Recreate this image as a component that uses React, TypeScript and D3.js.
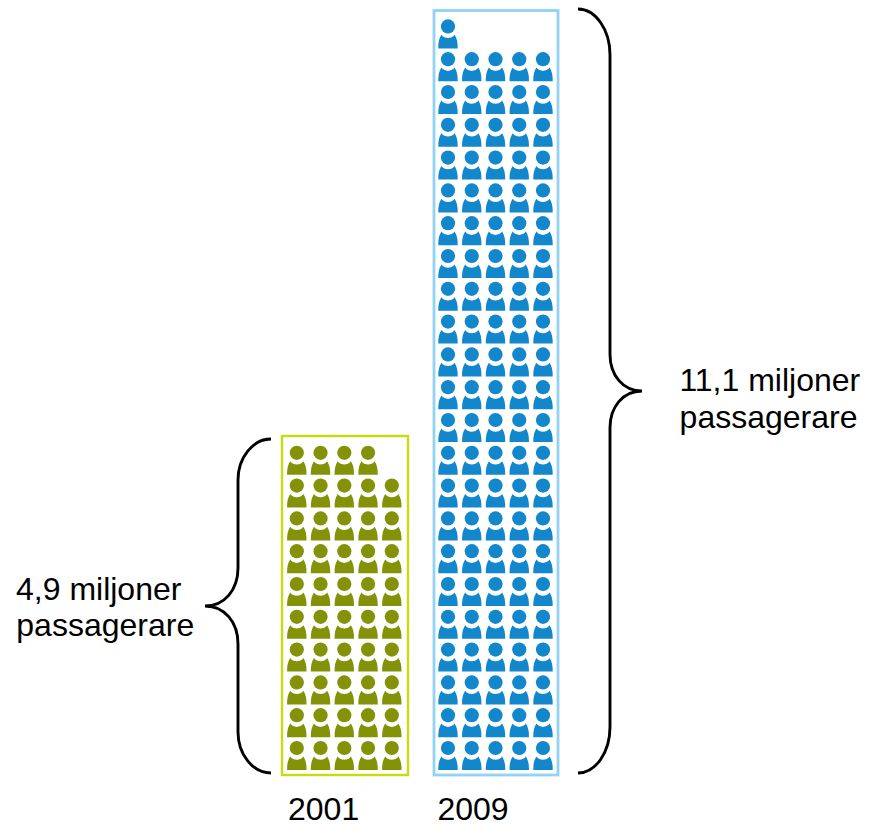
import React from "react";
import * as d3 from "d3";

// Passenger totals in millions; each figure stands for 100 000 passengers.
const years = ["2001", "2009"];
const passengers = [4.9, 11.1];
const figureColors = ["#849208", "#1287cc"];
const frameColors = ["#c6dc10", "#92d2f6"];
const totalLabels = [
  ["4,9 miljoner", "passagerare"],
  ["11,1 miljoner", "passagerare"],
];
const millionsPerFigure = 0.1;
const figuresPerRow = 5;
const maxRows = 23;

const bottomRowHeadY = 748;
const rowStep = 32.8;
const colStep = 23.75;
const firstColX = [296.8, 448];

const rowY = d3
  .scaleLinear()
  .domain([0, maxRows - 1])
  .range([bottomRowHeadY, bottomRowHeadY - rowStep * (maxRows - 1)]);

const personBody =
  "M-9.7 22 L9.7 22 C9.9 16 8.8 11.8 6.6 8.4 C3.5 12.8 -3.5 12.8 -6.6 8.4 C-8.8 11.8 -9.9 16 -9.7 22 Z";

function Person({ x, y, color }: { x: number; y: number; color: string }) {
  return (
    <g transform={`translate(${x},${y})`} fill={color}>
      <circle r={7.1} />
      <path d={personBody} />
    </g>
  );
}

function Pictogram({ index }: { index: number }) {
  const count = Math.round(passengers[index] / millionsPerFigure);
  const colX = d3
    .scaleLinear()
    .domain([0, figuresPerRow - 1])
    .range([firstColX[index], firstColX[index] + colStep * (figuresPerRow - 1)]);
  return (
    <g>
      {d3.range(count).map((i) => (
        <Person
          key={i}
          x={colX(i % figuresPerRow)}
          y={rowY(Math.floor(i / figuresPerRow))}
          color={figureColors[index]}
        />
      ))}
    </g>
  );
}

// Curly brace with its point at (tipX, tipY); armRise is the height of the curve at each arm end.
function bracePath(
  endX: number,
  spineX: number,
  tipX: number,
  top: number,
  tipY: number,
  bottom: number,
  armRise: number,
) {
  const p = d3.path();
  const r = Math.abs(endX - spineX);
  const t = Math.abs(tipX - spineX);
  const dirEnd = Math.sign(endX - spineX);
  const dirTip = Math.sign(tipX - spineX);
  p.moveTo(endX, top);
  p.bezierCurveTo(spineX + dirEnd * r * 0.45, top, spineX, top + armRise * 0.45, spineX, top + armRise);
  p.lineTo(spineX, tipY - t * 1.15);
  p.bezierCurveTo(spineX, tipY - t * 0.5, spineX + dirTip * t * 0.4, tipY, tipX, tipY);
  p.bezierCurveTo(spineX + dirTip * t * 0.4, tipY, spineX, tipY + t * 0.5, spineX, tipY + t * 1.15);
  p.lineTo(spineX, bottom - armRise);
  p.bezierCurveTo(spineX, bottom - armRise * 0.45, spineX + dirEnd * r * 0.45, bottom, endX, bottom);
  return p.toString();
}

const font = "'Liberation Sans', Arial, sans-serif";

export default function App() {
  return (
    <svg
      width={869}
      height={827}
      viewBox="0 0 869 827"
      style={{ position: "absolute", left: 0, top: 0, display: "block" }}
      fontFamily={font}
      fontSize={32}
      fill="#000"
    >
      <rect x={282} y={436} width={126} height={339} fill="none" stroke={frameColors[0]} strokeWidth={2.4} />
      <rect x={434} y={10.5} width={124} height={764.5} fill="none" stroke={frameColors[1]} strokeWidth={2.8} />

      <Pictogram index={0} />
      <Pictogram index={1} />

      <path d={bracePath(271, 238, 205, 439, 606, 773, 41)} fill="none" stroke="#000" strokeWidth={2.9} />
      <path d={bracePath(578, 610, 642, 9, 391, 773, 46)} fill="none" stroke="#000" strokeWidth={2.9} />

      <text x={288} y={820}>{years[0]}</text>
      <text x={437.4} y={820}>{years[1]}</text>

      <text x={16} y={600}>{totalLabels[0][0]}</text>
      <text x={16.3} y={635.5}>{totalLabels[0][1]}</text>
      <text x={679.4} y={391}>{totalLabels[1][0]}</text>
      <text x={679.6} y={428}>{totalLabels[1][1]}</text>
    </svg>
  );
}
